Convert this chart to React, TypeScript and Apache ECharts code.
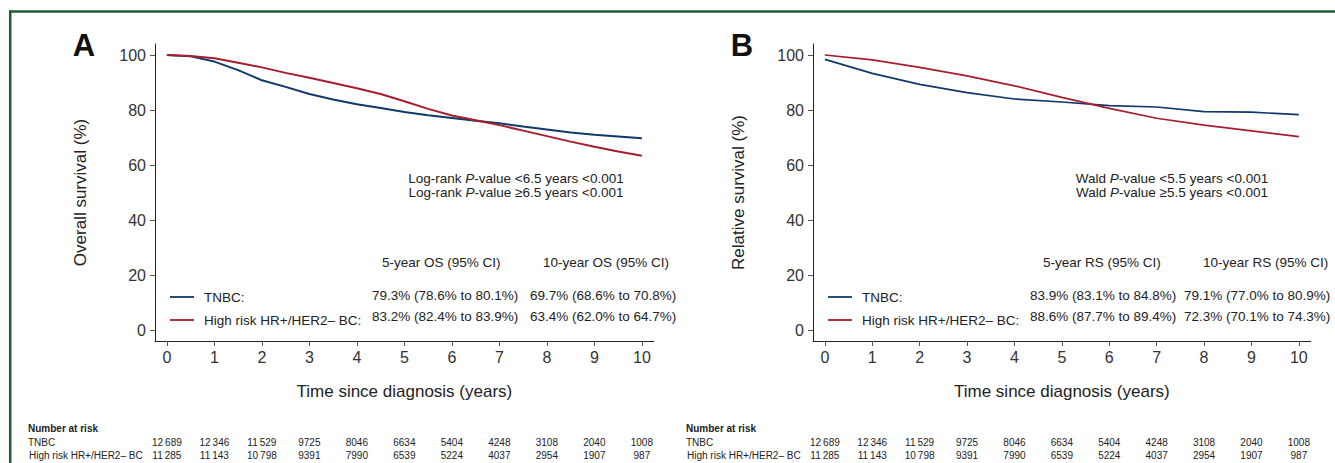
import React, { useEffect, useRef } from "react";
import * as echarts from "echarts";

const years = [0, 0.5, 1, 1.5, 2, 2.5, 3, 3.5, 4, 4.5, 5, 5.5, 6, 6.5, 7, 7.5, 8, 8.5, 9, 9.5, 10];
const osTnbc = [100, 99.5, 97.6, 94.5, 90.8, 88.4, 85.8, 83.8, 82.1, 80.7, 79.3, 78.1, 77.1, 76.1, 75.2, 74.0, 72.9, 71.8, 71.0, 70.4, 69.7];
const osHr = [100, 99.6, 98.8, 97.2, 95.5, 93.5, 91.7, 89.8, 87.9, 85.8, 83.2, 80.4, 78.0, 76.3, 74.5, 72.5, 70.5, 68.5, 66.6, 64.9, 63.4];

const rsYears = [0, 1, 2, 3, 4, 5, 6, 7, 8, 9, 10];
const rsTnbc = [98.4, 93.3, 89.3, 86.3, 84.0, 82.9, 81.6, 81.1, 79.4, 79.2, 78.3];
const rsHr = [100, 98.2, 95.5, 92.4, 88.8, 84.6, 80.6, 77.0, 74.5, 72.4, 70.3];

const xTicks = [0, 1, 2, 3, 4, 5, 6, 7, 8, 9, 10];
const yTicks = [0, 20, 40, 60, 80, 100];

const riskTnbc = [12689, 12346, 11529, 9725, 8046, 6634, 5404, 4248, 3108, 2040, 1008];
const riskHr = [11285, 11143, 10798, 9391, 7990, 6539, 5224, 4037, 2954, 1907, 987];

const nameTnbc = "TNBC:";
const nameHr = "High risk HR+/HER2\u2013 BC:";

const osStats = {
  header: ["5-year OS (95% CI)", "10-year OS (95% CI)"],
  tnbc: ["79.3% (78.6% to 80.1%)", "69.7% (68.6% to 70.8%)"],
  hr: ["83.2% (82.4% to 83.9%)", "63.4% (62.0% to 64.7%)"],
};
const rsStats = {
  header: ["5-year RS (95% CI)", "10-year RS (95% CI)"],
  tnbc: ["83.9% (83.1% to 84.8%)", "79.1% (77.0% to 80.9%)"],
  hr: ["88.6% (87.7% to 89.4%)", "72.3% (70.1% to 74.3%)"],
};

const BLUE = "#10386b";
const RED = "#a81c2c";
const GREEN = "#1d5c36";
const FONT = "'Liberation Sans', Arial, Helvetica, sans-serif";
const TXT = "#222";
const ANN = 13.5;

function fmt(n: number): string {
  const s = String(n);
  if (n >= 10000) return s.slice(0, s.length - 3) + "\u2009" + s.slice(s.length - 3);
  return s;
}

function xAxisCfg(gridIndex: number) {
  return {
    type: "value",
    gridIndex,
    min: -0.25,
    max: 10.25,
    name: "Time since diagnosis (years)",
    nameLocation: "middle",
    nameGap: 42,
    nameTextStyle: { fontSize: 17, color: TXT, fontFamily: FONT },
    axisLine: { onZero: false, lineStyle: { color: "#222", width: 1 } },
    axisTick: { show: true, length: 5, lineStyle: { color: "#555" }, customValues: xTicks },
    axisLabel: { fontSize: 16, color: "#333", margin: 8, fontFamily: FONT, customValues: xTicks },
    splitLine: { show: false },
  };
}

function yAxisCfg(gridIndex: number, name: string) {
  return {
    type: "value",
    gridIndex,
    min: -4,
    max: 104,
    name,
    nameLocation: "middle",
    nameGap: 66,
    nameTextStyle: { fontSize: 17, color: TXT, fontFamily: FONT },
    axisLine: { onZero: false, lineStyle: { color: "#222", width: 1 } },
    axisTick: { show: true, length: 5, lineStyle: { color: "#555" }, customValues: yTicks },
    axisLabel: { fontSize: 16, color: "#333", margin: 9, fontFamily: FONT, customValues: yTicks },
    splitLine: { show: false },
  };
}

function pairs(xs: number[], ys: number[]) {
  return xs.map((x, i) => [x, ys[i]]);
}

function txt(x: number, y: number, text: string, extra: any = {}) {
  return {
    type: "text",
    x,
    y,
    silent: true,
    style: {
      text,
      fontSize: ANN,
      fontFamily: FONT,
      fill: TXT,
      textAlign: "left",
      textVerticalAlign: "middle",
      ...extra,
    },
  };
}

function pLine(cx: number, y: number, pre: string, post: string) {
  return {
    type: "text",
    x: cx,
    y,
    silent: true,
    style: {
      text: `{n|${pre}}{i|P}{n|${post}}`,
      textAlign: "center",
      textVerticalAlign: "middle",
      rich: {
        n: { fontSize: ANN, fontFamily: FONT, fill: TXT },
        i: { fontSize: ANN, fontFamily: FONT, fill: TXT, fontStyle: "italic" },
      },
    },
  };
}

export default function App() {
  const ref = useRef<HTMLDivElement>(null);

  useEffect(() => {
    if (!ref.current) return;
    const chart = echarts.init(ref.current, undefined, { renderer: "svg" });

    const legendCfg = (left: number) => ({
      orient: "vertical",
      left,
      top: 285,
      icon: "rect",
      itemWidth: 24,
      itemHeight: 1.8,
      itemGap: 9,
      selectedMode: false,
      data: [nameTnbc, nameHr],
      textStyle: { fontSize: ANN, lineHeight: 14, color: TXT, fontFamily: FONT, padding: [0, 0, 0, 5] },
    });

    const lineSeries = (name: string, data: number[][], color: string, idx: number, w: number) => ({
      type: "line",
      name,
      xAxisIndex: idx,
      yAxisIndex: idx,
      data,
      symbol: "none",
      smooth: false,
      lineStyle: { color, width: w },
      itemStyle: { color },
      silent: true,
    });

    chart.setOption({
      animation: false,
      backgroundColor: "#ffffff",
      textStyle: { fontFamily: FONT },
      grid: [
        { left: 155, top: 44, width: 498.75, height: 297 },
        { left: 813, top: 44, width: 497.7, height: 297 },
      ],
      xAxis: [xAxisCfg(0), xAxisCfg(1)],
      yAxis: [yAxisCfg(0, "Overall survival (%)"), yAxisCfg(1, "Relative survival (%)")],
      legend: [legendCfg(165), legendCfg(823)],
      series: [
        lineSeries(nameTnbc, pairs(years, osTnbc), BLUE, 0, 2),
        lineSeries(nameHr, pairs(years, osHr), RED, 0, 2),
        lineSeries(nameTnbc, pairs(rsYears, rsTnbc), BLUE, 1, 1.7),
        lineSeries(nameHr, pairs(rsYears, rsHr), RED, 1, 1.7),
      ],
    });

    const g: any[] = [];
    // frame
    g.push({ type: "line", silent: true, shape: { x1: 9, y1: 11.5, x2: 1335, y2: 11.5 }, style: { stroke: GREEN, lineWidth: 2.5 } });
    g.push({ type: "line", silent: true, shape: { x1: 10.2, y1: 10.5, x2: 10.2, y2: 463 }, style: { stroke: GREEN, lineWidth: 2.5 } });
    // panel letters
    g.push(txt(84, 45, "A", { fontSize: 31, fontWeight: "bold", textAlign: "center", fill: "#111" }));
    g.push(txt(742, 45, "B", { fontSize: 31, fontWeight: "bold", textAlign: "center", fill: "#111" }));

    // panel A annotations
    g.push(pLine(516, 178, "Log-rank ", "-value <6.5 years <0.001"));
    g.push(pLine(516, 192, "Log-rank ", "-value \u22656.5 years <0.001"));
    g.push(txt(382, 262, osStats.header[0]));
    g.push(txt(543, 262, osStats.header[1]));
    g.push(txt(372, 295, osStats.tnbc[0]));
    g.push(txt(530, 295, osStats.tnbc[1]));
    g.push(txt(372, 316, osStats.hr[0]));
    g.push(txt(530, 316, osStats.hr[1]));

    // panel B annotations
    g.push(pLine(1172, 178, "Wald ", "-value <5.5 years <0.001"));
    g.push(pLine(1172, 192, "Wald ", "-value \u22655.5 years <0.001"));
    g.push(txt(1043, 262, rsStats.header[0]));
    g.push(txt(1203, 262, rsStats.header[1]));
    g.push(txt(1030, 295, rsStats.tnbc[0]));
    g.push(txt(1184, 295, rsStats.tnbc[1]));
    g.push(txt(1030, 316, rsStats.hr[0]));
    g.push(txt(1184, 316, rsStats.hr[1]));

    // number at risk tables
    const tableFont = 10;
    [
      { idx: 0, left: 28 },
      { idx: 1, left: 686 },
    ].forEach(({ idx, left }) => {
      g.push(txt(left, 428, "Number at risk", { fontSize: tableFont, fontWeight: "bold" }));
      g.push(txt(left, 442, "TNBC", { fontSize: tableFont }));
      g.push(txt(left + 1, 455, "High risk HR+/HER2\u2013 BC", { fontSize: tableFont }));
      xTicks.forEach((t, i) => {
        const px = chart.convertToPixel({ xAxisIndex: idx }, t) as number;
        g.push(txt(px, 442, fmt(riskTnbc[i]), { fontSize: tableFont, textAlign: "center" }));
        g.push(txt(px, 455, fmt(riskHr[i]), { fontSize: tableFont, textAlign: "center" }));
      });
    });

    chart.setOption({ graphic: g });

    return () => chart.dispose();
  }, []);

  return (
    <div
      ref={ref}
      style={{ position: "fixed", left: 0, top: 0, width: 1335, height: 463, background: "#fff" }}
    />
  );
}
